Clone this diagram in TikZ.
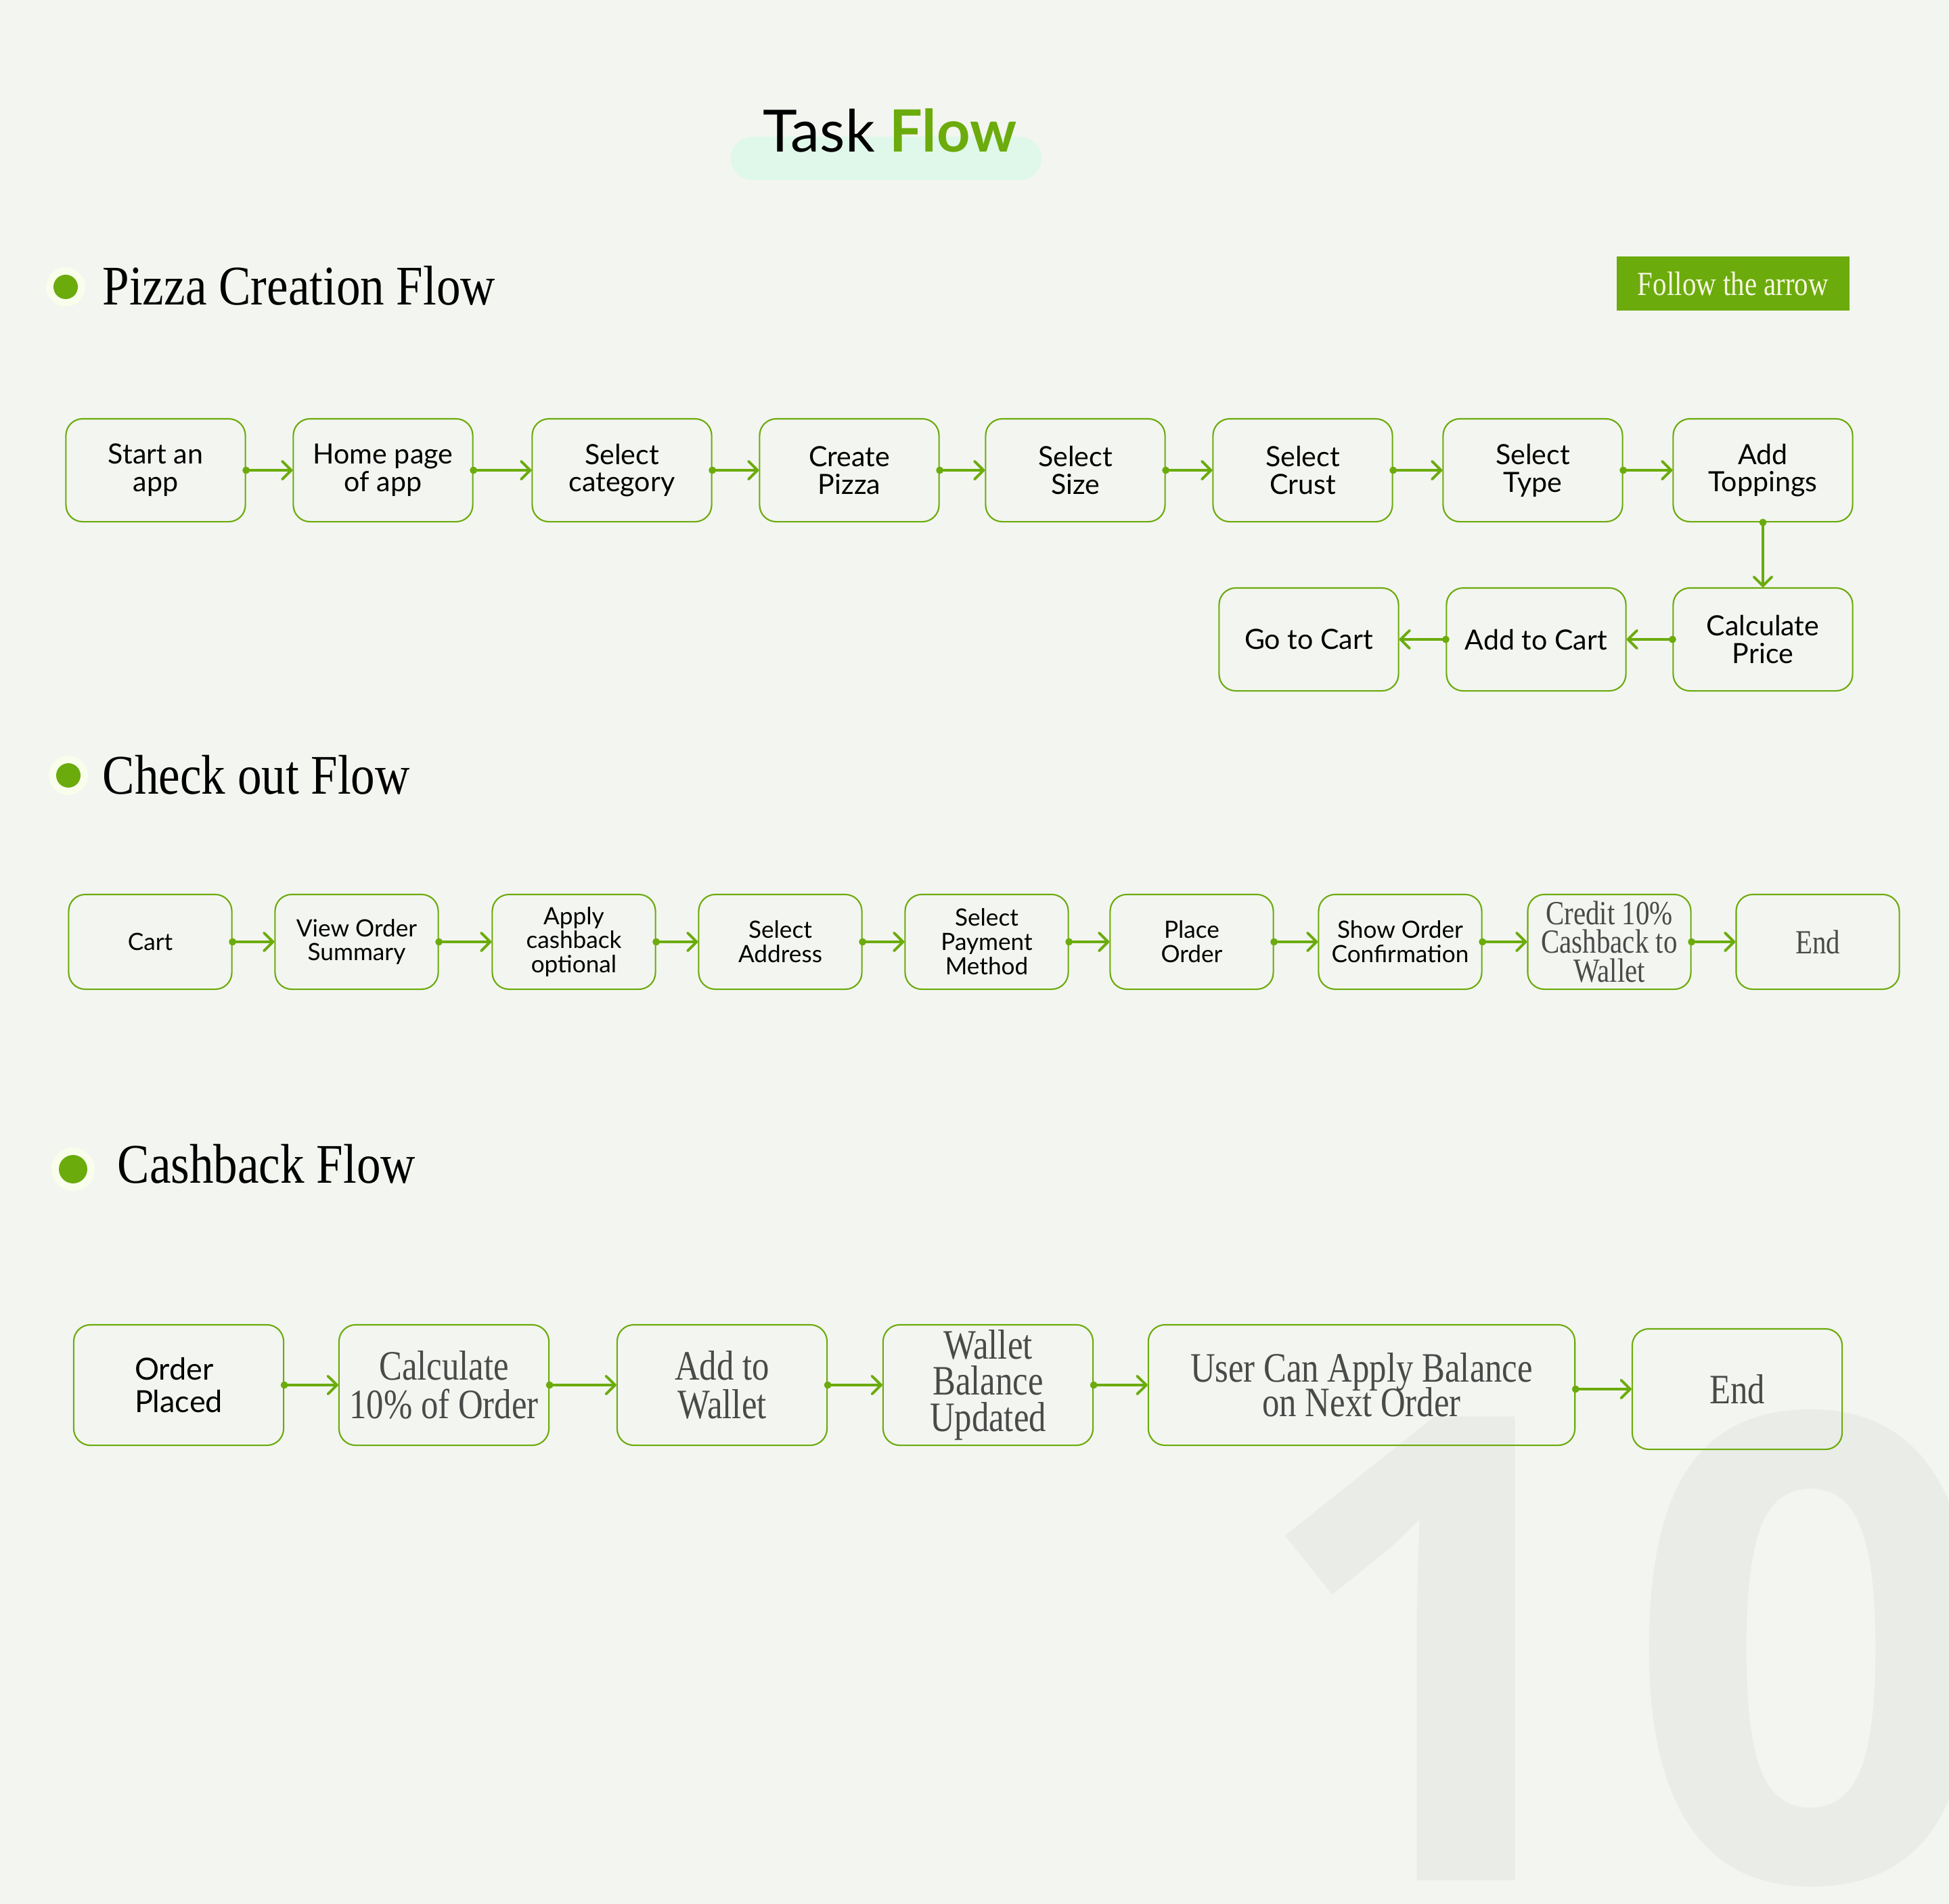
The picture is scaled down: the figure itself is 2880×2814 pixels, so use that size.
\documentclass[tikz,border=0pt]{standalone}
\usepackage{fontspec}
\usetikzlibrary{arrows.meta}
\newfontfamily\sansc{Lato}
\newfontfamily\serc{Liberation Serif}[FakeStretch=0.82]
\newfontfamily\headf{Liberation Serif}[FakeStretch=0.86]
\newfontfamily\wmf{Open Sans}
\newcommand\tightlines{\lineskiplimit=-100pt\lineskip=0pt\relax}
\definecolor{bg}{HTML}{F3F5F0}
\definecolor{gr}{HTML}{6BAB0C}
\definecolor{pill}{HTML}{DFF8E9}
\definecolor{wm}{HTML}{EAECE7}
\definecolor{halo}{HTML}{F9FDEC}
\definecolor{sertxt}{HTML}{4A4A4A}
\definecolor{cream}{HTML}{F7F7E2}
\tikzset{
  box/.style={draw=gr, line width=0.6pt, rounded corners=7pt, align=center, inner sep=0pt, text=black},
  rowa/.style={box, minimum width=2.65cm, minimum height=1.52cm, font=\sansc\fontsize{11.7pt}{11.6pt}\selectfont\tightlines},
  rowb/.style={box, minimum width=2.41cm, minimum height=1.40cm, font=\sansc\fontsize{10pt}{10.2pt}\selectfont\tightlines},
  rowbs/.style={rowb, text=sertxt, font=\serc\fontsize{14.2pt}{12.2pt}\selectfont\tightlines},
  rowc/.style={box, minimum width=3.10cm, minimum height=1.78cm, text=sertxt, font=\serc\fontsize{17.6pt}{16.2pt}\selectfont\tightlines},
  flow/.style={draw=gr, line width=1.1pt, {Circle[length=3pt]}-{Straight Barb[length=3.8pt,width=7.5pt,round]}, shorten <=-1.5pt},
  head/.style={anchor=base west, inner sep=0pt, font=\headf\fontsize{23.5pt}{23.5pt}\selectfont, text=black},
}
\begin{document}
\begin{tikzpicture}[x=0.01cm,y=-0.01cm]
\fill[bg] (0,0) rectangle (2880,2814);
\useasboundingbox (0,0) rectangle (2880,2814);
% watermark
\begin{scope}
\clip (0,0) rectangle (2880,2814);
\node[anchor=base west, inner sep=0pt, text=wm, font=\wmf\bfseries\fontsize{273pt}{273pt}\selectfont] (wmark) at (1842,2779) {1\kern 0.12cm0};
\end{scope}
% title
\fill[pill, rounded corners=0.32cm] (1080,202) rectangle (1539,266);
\node[anchor=base, inner sep=0pt, font=\sansc\fontsize{24.5pt}{24.5pt}\selectfont] (title) at (1315,224) {Task \textcolor{gr}{\bfseries Flow}};
% headings
\fill[halo] (97,424) circle (29);
\fill[gr] (97,424) circle (18);
\node[head] (h1) at (151,450) {Pizza Creation Flow};
\fill[halo] (101,1146) circle (29);
\fill[gr] (101,1146) circle (18);
\node[head] (h2) at (151,1173) {Check out Flow};
\fill[halo] (108,1728) circle (32);
\fill[gr] (108,1728) circle (21);
\node[head] (h3) at (173,1748) {Cashback Flow};
% follow the arrow
\node[fill=gr, minimum width=3.43cm, minimum height=0.79cm, inner sep=0pt, text=cream, font=\serc\fontsize{14.2pt}{14.2pt}\selectfont] (follow) at (2561,419) {Follow the arrow};
% pizza creation flow
\node[rowa] (p1) at (230,695) {Start an\\app};
\node[rowa] (p2) at (566,695) {Home page\\of app};
\node[rowa] (p3) at (919,695) {Select\\category};
\node[rowa] (p4) at (1255,695) {Create\\Pizza};
\node[rowa] (p5) at (1589,695) {Select\\Size};
\node[rowa] (p6) at (1925,695) {Select\\Crust};
\node[rowa] (p7) at (2265,695) {Select\\Type};
\node[rowa] (p8) at (2605,695) {Add\\Toppings};
\node[rowa] (p9) at (2605,945) {Calculate\\Price};
\node[rowa] (p10) at (2270,945) {Add to Cart};
\node[rowa] (p11) at (1934,945) {Go to Cart};
\foreach \a/\b in {p1/p2,p2/p3,p3/p4,p4/p5,p5/p6,p6/p7,p7/p8}
  \draw[flow] (\a.east) -- (\b.west);
\draw[flow] (p8.south) -- (p9.north);
\draw[flow] (p9.west) -- (p10.east);
\draw[flow] (p10.west) -- (p11.east);
% check out flow
\node[rowb] (k1) at (222,1392) {Cart};
\node[rowb] (k2) at (527,1392) {View Order\\Summary};
\node[rowb] (k3) at (848,1392) {Apply\\cashback\\optional};
\node[rowb] (k4) at (1153,1392) {Select\\Address};
\node[rowb] (k5) at (1458,1392) {Select\\Payment\\Method};
\node[rowb] (k6) at (1761,1392) {Place\\Order};
\node[rowb] (k7) at (2069,1392) {Show Order\\Confirmation};
\node[rowbs] (k8) at (2378,1392) {Credit 10\%\\Cashback to\\Wallet};
\node[rowbs] (k9) at (2686,1392) {End};
\foreach \a/\b in {k1/k2,k2/k3,k3/k4,k4/k5,k5/k6,k6/k7,k7/k8,k8/k9}
  \draw[flow] (\a.east) -- (\b.west);
% cashback flow
\node[rowc, text=black, align=left, font=\sansc\fontsize{12.8pt}{13.7pt}\selectfont\tightlines] (c1) at (264,2047) {Order\\Placed};
\node[rowc] (c2) at (656,2047) {Calculate\\10\% of Order};
\node[rowc] (c3) at (1067,2047) {Add to\\Wallet};
\node[rowc, font=\serc\fontsize{17.6pt}{15.1pt}\selectfont\tightlines] (c4) at (1460,2047) {Wallet\\Balance\\Updated};
\node[rowc, minimum width=6.30cm, font=\serc\fontsize{17.6pt}{14.6pt}\selectfont\tightlines] (c5) at (2012,2047) {User Can Apply Balance\\on Next Order};
\node[rowc] (c6) at (2567,2053) {End};
\foreach \a/\b in {c1/c2,c2/c3,c3/c4,c4/c5}
  \draw[flow] (\a.east) -- (\b.west);
\draw[flow] (c5.east |- c6.west) -- (c6.west);
\end{tikzpicture}
\end{document}
